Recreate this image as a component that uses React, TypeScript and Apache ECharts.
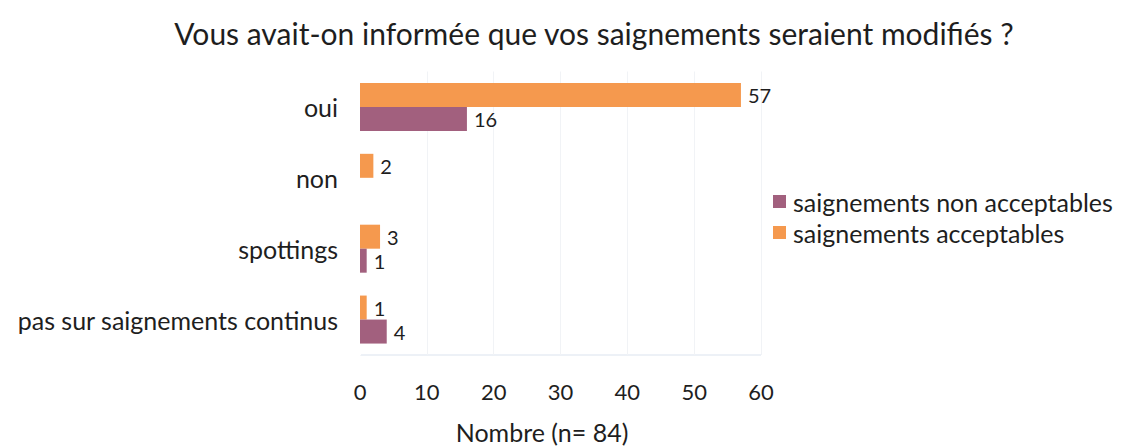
import React, { useEffect, useRef } from "react";
import * as echarts from "echarts";

const categories = ["oui", "non", "spottings", "pas sur saignements continus"];
const acceptables = [57, 2, 3, 1];
const nonAcceptables: (number | null)[] = [16, null, 1, 4];
const xTicks = [0, 10, 20, 30, 40, 50, 60];

const FONT = "Lato, 'Open Sans', sans-serif";

export default function App() {
  const ref = useRef<HTMLDivElement>(null);
  useEffect(() => {
    if (!ref.current) return;
    const chart = echarts.init(ref.current, null, { renderer: "svg" });
    chart.setOption({
      animation: false,
      backgroundColor: "#ffffff",
      textStyle: { fontFamily: FONT },
      title: {
        text: "Vous avait-on informée que vos saignements seraient modifiés ?",
        left: 589,
        textAlign: "center",
        top: 13,
        textStyle: { fontSize: 30, fontWeight: "normal", color: "#1e1e1e", fontFamily: FONT },
      },
      legend: {
        orient: "vertical",
        left: 768,
        top: 184,
        itemWidth: 13,
        itemHeight: 13,
        itemGap: 6,
        icon: "rect",
        data: ["saignements non acceptables", "saignements acceptables"],
        textStyle: { fontSize: 25, color: "#1e1e1e", fontFamily: FONT, padding: [0, 0, 0, 2] },
      },
      grid: { left: 360, right: 366, top: 71.5, bottom: 91, containLabel: false },
      xAxis: {
        type: "value",
        min: xTicks[0],
        max: xTicks[xTicks.length - 1],
        interval: 10,
        axisLine: { show: false },
        axisTick: { show: false },
        splitLine: { show: true, lineStyle: { color: "#f1f3f6", width: 1 } },
        axisLabel: { fontSize: 22, color: "#1e1e1e", margin: 25, fontFamily: FONT },
      },
      yAxis: {
        type: "category",
        data: categories,
        inverse: true,
        axisLine: { show: true, lineStyle: { color: "#ffffff" } },
        axisTick: { show: false },
        axisLabel: { fontSize: 25, color: "#1e1e1e", margin: 22, fontFamily: FONT },
      },
      graphic: [
        {
          type: "line",
          shape: { x1: 360, y1: 355, x2: 761, y2: 355 },
          style: { stroke: "#dbe3ee", lineWidth: 1 },
        },
        {
          type: "text",
          x: 542,
          y: 432,
          style: {
            text: "Nombre (n= 84)",
            fontSize: 25,
            fill: "#1e1e1e",
            fontFamily: FONT,
            align: "center",
            verticalAlign: "middle",
          },
        },
      ],
      series: [
        {
          name: "saignements acceptables",
          type: "bar",
          data: acceptables,
          barWidth: 24,
          barGap: "0%",
          itemStyle: { color: "#f5994e" },
          label: { show: true, position: "right", distance: 7, fontSize: 20, color: "#1e1e1e", fontFamily: FONT },
        },
        {
          name: "saignements non acceptables",
          type: "bar",
          data: nonAcceptables,
          barWidth: 24,
          barGap: "0%",
          itemStyle: { color: "#a2607e" },
          label: { show: true, position: "right", distance: 7, fontSize: 20, color: "#1e1e1e", fontFamily: FONT },
        },
      ],
    });
    return () => chart.dispose();
  }, []);
  return <div ref={ref} style={{ position: "fixed", left: 0, top: 0, width: 1127, height: 446 }} />;
}
